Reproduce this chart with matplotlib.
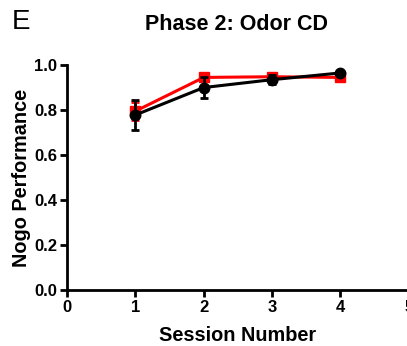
import numpy as np
from matplotlib import pyplot as plt

plt.rcParams['font.family'] = ['Liberation Sans', 'DejaVu Sans']

session = [1, 2, 3, 4]
red_mean = [0.795, 0.945, 0.948, 0.945]
red_err = [0.04, 0.015, 0.015, 0.01]
black_mean = [0.778, 0.90, 0.935, 0.965]
black_err = [0.065, 0.048, 0.02, 0.005]

fig = plt.figure(figsize=(4.07, 3.46), dpi=100)
ax = fig.add_axes([0.1646, 0.162, 0.84, 0.65])

ax.errorbar(session, red_mean, yerr=red_err, color='#ff0000', marker='s', markersize=7.5,
            linewidth=2.2, elinewidth=2, capsize=3, capthick=2, zorder=2)
ax.errorbar(session, black_mean, yerr=black_err, color='black', marker='o', markersize=7.5,
            linewidth=2.2, elinewidth=2, capsize=3, capthick=2, zorder=3)

ax.set_xlim(0, 5)
ax.set_ylim(0, 1.0)
ax.set_xticks([0, 1, 2, 3, 4, 5])
ax.set_yticks([0.0, 0.2, 0.4, 0.6, 0.8, 1.0])
ax.set_yticklabels(['0.0', '0.2', '0.4', '0.6', '0.8', '1.0'])
for s in ['top', 'right']:
    ax.spines[s].set_visible(False)
for s in ['left', 'bottom']:
    ax.spines[s].set_linewidth(2)
ax.tick_params(width=2, length=5, labelsize=12, pad=2)
for lab in ax.get_xticklabels() + ax.get_yticklabels():
    lab.set_fontweight('bold')
ax.spines['left'].set_bounds(0, 1.0)

ax.set_xlabel('Session Number', fontsize=14.3, fontweight='bold', labelpad=8)
ax.set_ylabel('Nogo Performance', fontsize=14.3, fontweight='bold', labelpad=2)
fig.text(0.582, 0.928, 'Phase 2: Odor CD', ha='center', va='center', fontsize=15.5, fontweight='bold')
fig.text(0.03, 0.936, 'E', ha='left', va='center', fontsize=20)

plt.savefig('out.png', dpi=100)
